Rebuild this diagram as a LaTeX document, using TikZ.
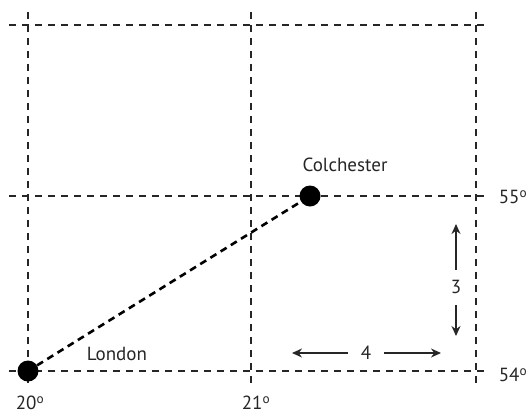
\documentclass[tikz,border=0pt]{standalone}
\usepackage{fontspec}
\setmainfont{PT Sans}
\usetikzlibrary{arrows.meta}
\begin{document}
\begin{tikzpicture}[x=1pt,y=-1pt,
  grid/.style={line width=1.2pt,dash pattern=on 7pt off 6pt,black!85},
  route/.style={line width=2.6pt,dash pattern=on 7pt off 5pt},
  town/.style={circle,fill=black,inner sep=0pt,minimum size=21pt},
  lbl/.style={font=\fontsize{19}{22}\selectfont,text=black!85,inner sep=0pt},
  arr/.style={line width=1.3pt,-{Stealth[length=10pt,width=9pt]},black!85}]
\useasboundingbox (0,0) rectangle (529,415);
% grid lines
\coordinate (v1t) at (28,12); \coordinate (v1b) at (28,388);
\coordinate (v2t) at (251,12); \coordinate (v2b) at (251,388);
\coordinate (v3t) at (476,12); \coordinate (v3b) at (476,388);
\coordinate (h1l) at (9,25); \coordinate (h1r) at (488,25);
\coordinate (h2l) at (9,196); \coordinate (h2r) at (488,196);
\coordinate (h3l) at (9,371); \coordinate (h3r) at (488,371);
\draw[grid] (v1t) -- (v1b);
\draw[grid] (v2t) -- (v2b);
\draw[grid] (v3t) -- (v3b);
\draw[grid] (h1l) -- (h1r);
\draw[grid] (h2l) -- (h2r);
\draw[grid] (h3l) -- (h3r);
% towns
\node[town] (lon) at (28,371) {};
\node[town] (col) at (310,196) {};
\draw[route] (lon) -- (col);
\node[lbl] (lonl) at (117,354) {London};
\node[lbl] (coll) at (345,165) {Colchester};
% degree labels
\node[lbl] (d20) at (30,403) {20\textsuperscript{o}};
\node[lbl] (d21) at (256,403) {21\textsuperscript{o}};
\node[lbl] (d55) at (513,197) {55\textsuperscript{o}};
\node[lbl] (d54) at (513,375) {54\textsuperscript{o}};
% distance arrows
\node[lbl] (four) at (366,353) {4};
\coordinate (fourLs) at (348,353); \coordinate (fourL) at (292,353);
\coordinate (fourRs) at (384,353); \coordinate (fourR) at (441,353);
\draw[arr] (fourLs) -- (fourL);
\draw[arr] (fourRs) -- (fourR);
\node[lbl] (three) at (456,287) {3};
\coordinate (threeTs) at (456,270); \coordinate (threeT) at (456,224);
\coordinate (threeBs) at (456,305); \coordinate (threeB) at (456,336);
\draw[arr] (threeTs) -- (threeT);
\draw[arr] (threeBs) -- (threeB);
\end{tikzpicture}
\end{document}
